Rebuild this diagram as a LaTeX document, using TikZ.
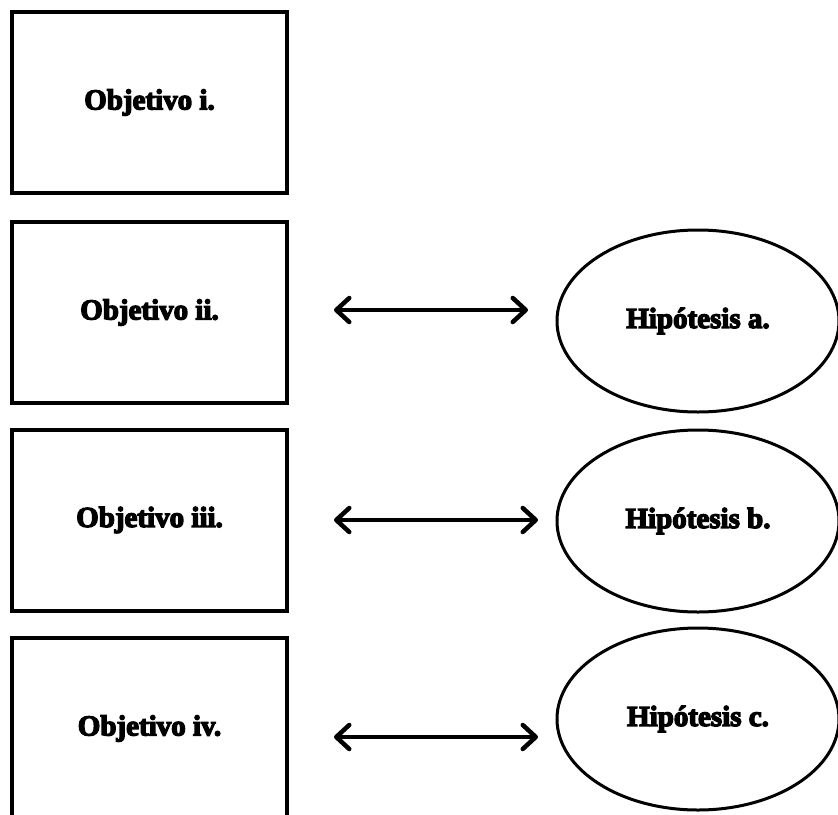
\documentclass[tikz,border=0pt]{standalone}
\usepackage{fontspec}
\setmainfont{Liberation Serif}
\newfontfamily\labelfont[FakeBold=4.5]{Liberation Serif Bold}
\usetikzlibrary{arrows.meta,shapes.geometric}

\tikzset{
  objbox/.style={draw, line width=4pt, minimum width=275pt, minimum height=181pt,
    inner sep=0pt, font=\labelfont\fontsize{29}{32}\selectfont},
  hypo/.style={draw, ellipse, line width=3pt, minimum width=282pt, minimum height=182pt,
    inner sep=0pt, font=\labelfont\fontsize{29}{32}\selectfont},
  barb/.tip={Straight Barb[length=13pt, width=24pt, line width=4.5pt, line cap=round, line join=round]},
  link/.style={line width=4.5pt, line cap=round, barb-barb}
}

\begin{document}
\begin{tikzpicture}[x=1pt, y=-1pt]
  \useasboundingbox (0,0) rectangle (838,814);

  % objectives (left column)
  \node[objbox] (o1) at (149.5,102.5) {Objetivo i.};
  \node[objbox] (o2) at (149.5,312.5) {Objetivo ii.};
  \node[objbox] (o3) at (149.5,520) {Objetivo iii.};
  \node[objbox] (o4) at (149.5,728.5) {Objetivo iv.};

  % hypotheses (right column)
  \node[hypo] (h1) at (698,321) {Hipótesis a.};
  \node[hypo] (h2) at (698,521) {Hipótesis b.};
  \node[hypo] (h3) at (698,719) {Hipótesis c.};

  % arrow end points
  \coordinate (a1s) at (334,310);  \coordinate (a1e) at (528,310);
  \coordinate (a2s) at (334,520);  \coordinate (a2e) at (538,520);
  \coordinate (a3s) at (334,737);  \coordinate (a3e) at (538,737);

  % objective <-> hypothesis links
  \draw[link] (a1s) -- (a1e);
  \draw[link] (a2s) -- (a2e);
  \draw[link] (a3s) -- (a3e);
\end{tikzpicture}
\end{document}
